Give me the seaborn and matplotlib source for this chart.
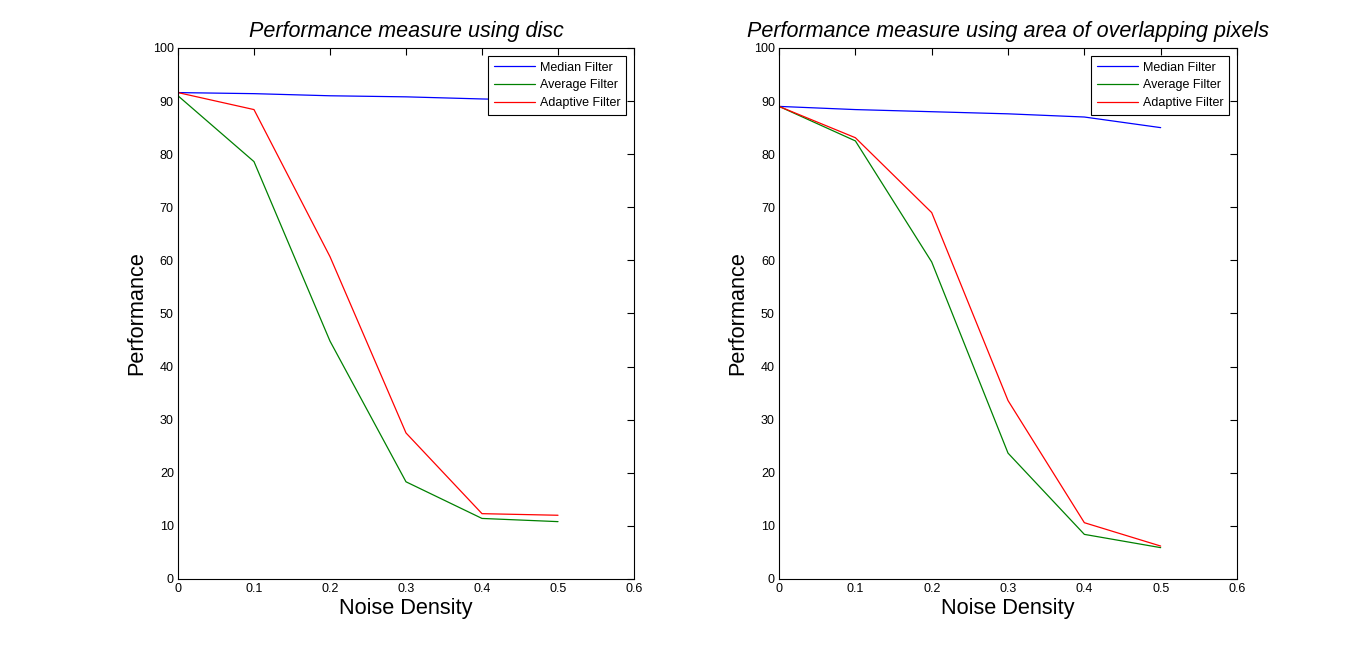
import matplotlib
matplotlib.use("Agg")
import matplotlib.pyplot as plt
import pandas as pd
import seaborn as sns

# Values
noise_density = [0.0, 0.1, 0.2, 0.3, 0.4, 0.5]

disc_median = [91.6, 91.4, 91.0, 90.8, 90.4, 90.1]
disc_average = [91.0, 78.6, 44.8, 18.3, 11.4, 10.8]
disc_adaptive = [91.6, 88.4, 60.7, 27.5, 12.3, 12.0]

overlap_median = [89.0, 88.4, 88.0, 87.6, 87.0, 85.0]
overlap_average = [89.0, 82.5, 59.7, 23.7, 8.4, 5.9]
overlap_adaptive = [89.0, 83.1, 69.0, 33.6, 10.6, 6.2]

filters = ["Median Filter", "Average Filter", "Adaptive Filter"]
colors = {"Median Filter": "#0000ff", "Average Filter": "#008000", "Adaptive Filter": "#ff0000"}

titles = ["Performance measure using disc",
          "Performance measure using area of overlapping pixels"]


def to_long(median, average, adaptive):
    frames = []
    for name, vals in zip(filters, [median, average, adaptive]):
        frames.append(pd.DataFrame({"x": noise_density, "y": vals, "Filter": name}))
    return pd.concat(frames, ignore_index=True)


sns.set_style("white")
plt.rcParams['font.family'] = ['Liberation Sans', 'DejaVu Sans']
plt.rcParams['text.color'] = 'black'
plt.rcParams['axes.labelcolor'] = 'black'

fig = plt.figure(figsize=(13.67, 6.52), dpi=100)
positions = [[0.1302, 0.112, 0.3336, 0.8144],
             [0.5699, 0.112, 0.3350, 0.8144]]
datasets = [to_long(disc_median, disc_average, disc_adaptive),
            to_long(overlap_median, overlap_average, overlap_adaptive)]

for pos, df, title in zip(positions, datasets, titles):
    ax = fig.add_axes(pos)
    sns.lineplot(data=df, x="x", y="y", hue="Filter", hue_order=filters,
                 palette=colors, linewidth=0.9, ax=ax)
    ax.set_xlim(0, 0.6)
    ax.set_ylim(0, 100)
    ax.set_xticks([0, 0.1, 0.2, 0.3, 0.4, 0.5, 0.6])
    ax.set_xticklabels(["0", "0.1", "0.2", "0.3", "0.4", "0.5", "0.6"])
    ax.set_yticks(range(0, 101, 10))
    ax.tick_params(direction="in", length=5, width=0.8, top=True, right=True,
                   labelsize=9, colors="black", pad=3)
    for spine in ax.spines.values():
        spine.set_color("black")
        spine.set_linewidth(0.8)
    ax.set_title(title, fontsize=15.5, style="italic", pad=8, color="black")
    ax.set_xlabel("Noise Density", fontsize=15.7, labelpad=2)
    ax.set_ylabel("Performance", fontsize=15.7, labelpad=4)
    leg = ax.legend(loc="upper right", fontsize=9, frameon=True, fancybox=False,
                    framealpha=1.0, edgecolor="black", borderaxespad=0.65,
                    handlelength=3.3, handletextpad=0.35, labelspacing=0.45,
                    borderpad=0.45)
    leg.get_frame().set_linewidth(0.8)

fig.savefig("out.png", dpi=100, facecolor="white")
